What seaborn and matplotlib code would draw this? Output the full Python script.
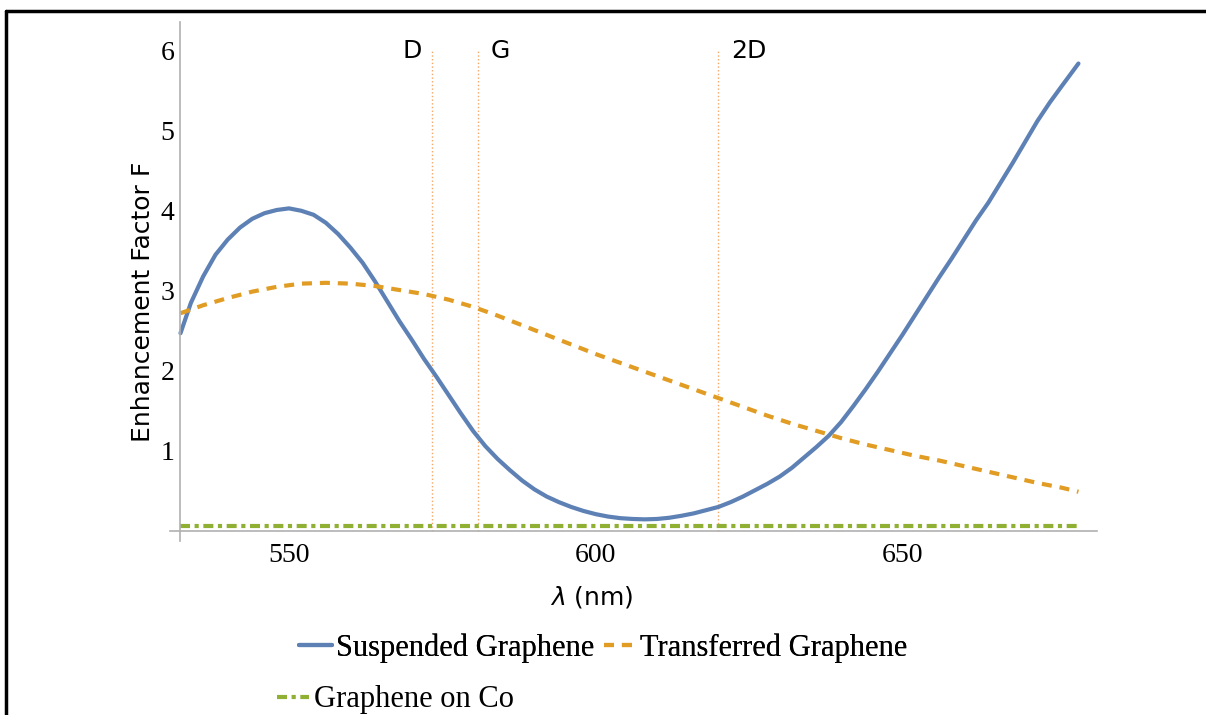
import numpy as np
import pandas as pd
import matplotlib
matplotlib.use("Agg")
import matplotlib.pyplot as plt
import seaborn as sns
from matplotlib.lines import Line2D

# values
wl_suspended = [532.3, 534, 536, 538, 540, 542, 544, 546, 548, 550, 552, 554, 556, 558, 560,
                562, 564, 566, 568, 570, 572, 574, 576, 578, 580, 582, 584, 586, 588, 590,
                592, 594, 596, 598, 600, 602, 604, 606, 608, 610, 612, 614, 616, 618, 620,
                622, 624, 626, 628, 630, 632, 634, 636, 638, 640, 642, 644, 646, 648, 650,
                652, 654, 656, 658, 660, 662, 664, 666, 668, 670, 672, 674, 676, 678.7]
suspended = [2.47, 2.85, 3.18, 3.45, 3.64, 3.79, 3.90, 3.97, 4.01, 4.03, 4.00, 3.95, 3.85, 3.71, 3.54,
             3.35, 3.12, 2.87, 2.62, 2.39, 2.15, 1.93, 1.70, 1.47, 1.25, 1.06, 0.90, 0.76, 0.63, 0.52,
             0.43, 0.36, 0.30, 0.25, 0.21, 0.18, 0.16, 0.15, 0.145, 0.15, 0.165, 0.19, 0.22, 0.26, 0.30,
             0.36, 0.43, 0.51, 0.59, 0.68, 0.79, 0.92, 1.05, 1.19, 1.36, 1.56, 1.77, 1.99, 2.22, 2.45,
             2.69, 2.93, 3.17, 3.40, 3.64, 3.88, 4.10, 4.35, 4.60, 4.86, 5.12, 5.35, 5.56, 5.84]

wl_transferred = [532.3, 536, 540, 544, 548, 552, 556, 560, 564, 568, 572, 576, 580, 584, 588,
                  592, 596, 600, 604, 608, 612, 616, 620, 624, 628, 632, 636, 640, 644, 648,
                  652, 656, 660, 664, 668, 672, 676, 678.7]
transferred = [2.72, 2.82, 2.91, 2.99, 3.05, 3.09, 3.10, 3.09, 3.06, 3.01, 2.96, 2.89, 2.80, 2.69, 2.57,
               2.45, 2.33, 2.21, 2.10, 1.99, 1.88, 1.77, 1.66, 1.55, 1.44, 1.34, 1.25, 1.16, 1.08, 1.01,
               0.94, 0.88, 0.81, 0.74, 0.67, 0.60, 0.54, 0.49]

wl_co = [532.3, 678.7]
on_co = [0.06, 0.06]

peak_names = ["D", "G", "2D"]
peak_pos = [573.3, 580.8, 620.0]

df_s = pd.DataFrame({"wl": wl_suspended, "F": suspended})
df_t = pd.DataFrame({"wl": wl_transferred, "F": transferred})
df_c = pd.DataFrame({"wl": wl_co, "F": on_co})

sns.set_style("white")
plt.rcParams['font.family'] = ['DejaVu Sans']
plt.rcParams['text.color'] = 'black'
plt.rcParams['axes.labelcolor'] = 'black'
plt.rcParams['xtick.color'] = 'black'
plt.rcParams['ytick.color'] = 'black'

blue = "#5e81b5"
orange = "#e19c24"
green = "#8fb032"

fig = plt.figure(figsize=(12.06, 7.15), dpi=100)
ax = fig.add_axes([0.141, 0.2434, 0.769, 0.726])

sns.lineplot(data=df_s, x="wl", y="F", color=blue, lw=3, ax=ax, legend=False)
sns.lineplot(data=df_t, x="wl", y="F", color=orange, lw=3, ax=ax, legend=False)
ax.lines[-1].set_dashes([2.4, 1.9])
sns.lineplot(data=df_c, x="wl", y="F", color=green, lw=3, ax=ax, legend=False)
ax.lines[-1].set_dashes([2.4, 1.1, 1.0, 1.1])
handles = list(ax.lines[:3])

# Raman peak markers
for name, pos in zip(peak_names, peak_pos):
    ax.plot([pos, pos], [0, 6.0], color="#f7a766", lw=1, ls=":", zorder=1)
    if name == "D":
        ax.text(pos - 1.6, 6.0, name, ha="right", va="center", fontsize=18)
    else:
        ax.text(pos + 2.1, 6.0, name, ha="left", va="center", fontsize=18)

ax.set_xlim(530.6, 681.8)
ax.set_ylim(-0.125, 6.36)
ax.set_xticks([550, 600, 650])
ax.set_yticks([1, 2, 3, 4, 5, 6])
ax.spines['top'].set_visible(False)
ax.spines['right'].set_visible(False)
ax.spines['left'].set_position(('data', 532.25))
ax.spines['bottom'].set_position(('data', 0))
for s in ['left', 'bottom']:
    ax.spines[s].set_color("#b0b0b0")
    ax.spines[s].set_linewidth(1.2)
ax.tick_params(length=0, labelsize=20, pad=4)
for lab in ax.get_xticklabels() + ax.get_yticklabels():
    lab.set_family("Liberation Serif")
ax.xaxis.set_tick_params(pad=9)

ax.set_xlabel("")
ax.set_ylabel("")
fig.text(0.1185, 0.578, "Enhancement Factor F", rotation=90, ha="center", va="center", fontsize=18)
fig.text(0.491, 0.165, r"$\lambda$ (nm)", ha="center", va="center", fontsize=18)

# legend in two rows like the original
leg1 = fig.legend(handles[:2], ["Suspended Graphene", "Transferred Graphene"], ncol=2,
                  loc="center", bbox_to_anchor=(0.5004, 0.0937), frameon=False,
                  prop={"family": "Liberation Serif", "size": 22},
                  handlelength=1.05, handletextpad=0.15, columnspacing=0.3)
fig.add_artist(leg1)
leg2 = fig.legend(handles[2:], ["Graphene on Co"], loc="center", bbox_to_anchor=(0.328, 0.021),
                  frameon=False, prop={"family": "Liberation Serif", "size": 22},
                  handlelength=1.05, handletextpad=0.15)

# outer frame
fig.add_artist(Line2D([0.005, 1.0], [0.985, 0.985], color="black", lw=2.5, transform=fig.transFigure))
fig.add_artist(Line2D([0.005, 0.005], [0.0, 0.985], color="black", lw=2.5, transform=fig.transFigure))

fig.savefig("out.png", dpi=100)
